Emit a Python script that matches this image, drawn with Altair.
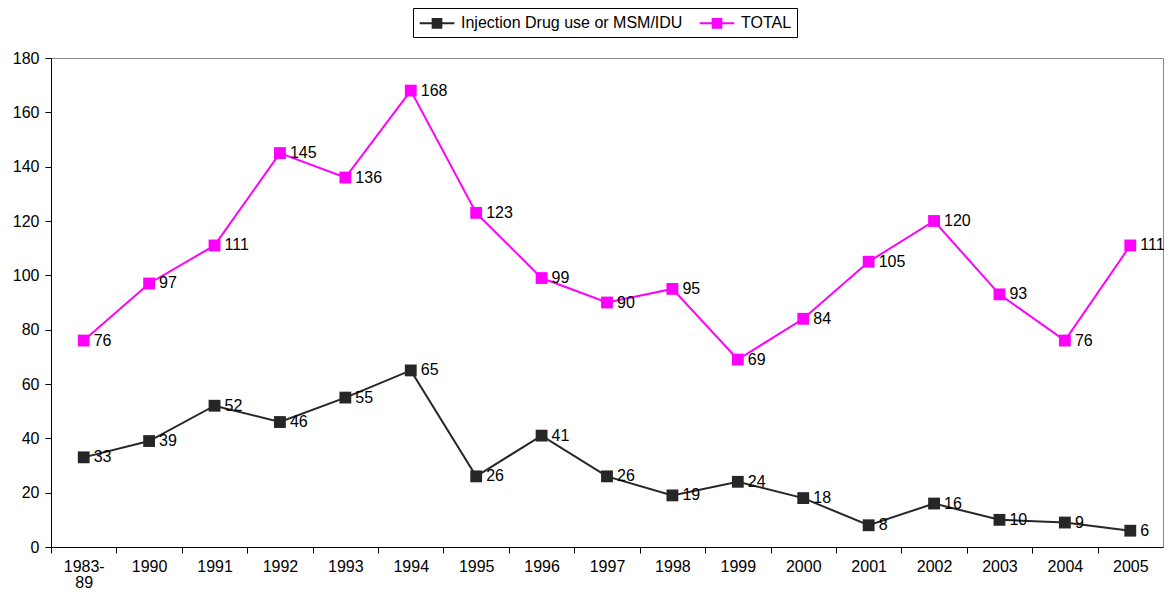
import altair as alt
import pandas as pd

years = ["1983-89", "1990", "1991", "1992", "1993", "1994", "1995", "1996", "1997",
         "1998", "1999", "2000", "2001", "2002", "2003", "2004", "2005"]
idu = [33, 39, 52, 46, 55, 65, 26, 41, 26, 19, 24, 18, 8, 16, 10, 9, 6]
total = [76, 97, 111, 145, 136, 168, 123, 99, 90, 95, 69, 84, 105, 120, 93, 76, 111]
series_names = ["Injection Drug use or MSM/IDU", "TOTAL"]
series_colors = ["#262626", "#FF00FF"]

rows = []
for name, vals in zip(series_names, [idu, total]):
    for y, v in zip(years, vals):
        rows.append({"year": y, "series": name, "value": v})
df = pd.DataFrame(rows)

W, H = 1112, 489
step = W / len(years)
FONT = "Liberation Sans"
FS = 16

x = alt.X("year:N", sort=years, title=None,
          scale=alt.Scale(type="point", padding=0.5),
          axis=alt.Axis(tickOffset=-step / 2, labelOffset=step / 2, labelAngle=0,
                        tickSize=6, labelPadding=5, labelFontSize=FS, labelFont=FONT,
                        labelColor="black", domainColor="black", tickColor="black",
                        labelLineHeight=16, labelBaseline="top",
                        labelExpr="datum.label == '1983-89' ? ['1983-', '89'] : datum.label"))
y = alt.Y("value:Q", title=None,
          scale=alt.Scale(domain=[0, 180], nice=False),
          axis=alt.Axis(values=list(range(0, 181, 20)), grid=False, tickSize=6,
                        labelPadding=6, labelFontSize=FS, labelFont=FONT,
                        labelColor="black", domainColor="black", tickColor="black"))
color = alt.Color("series:N", sort=series_names, title=None,
                  scale=alt.Scale(domain=series_names, range=series_colors),
                  legend=alt.Legend(orient="none", legendX=362, legendY=-50,
                                    direction="horizontal", strokeColor="black",
                                    padding=5, labelFontSize=FS, labelFont=FONT,
                                    labelColor="black", columnPadding=12, labelLimit=0,
                                    symbolType="M-2,0H2M-0.5,-0.5H0.5V0.5H-0.5Z",
                                    symbolSize=300, symbolStrokeWidth=2,
                                    symbolOffset=9, labelOffset=14))

base = alt.Chart(df).encode(x=x, y=y, color=color)
lines = base.mark_line(strokeWidth=2)
points = base.mark_point(shape="square", filled=True, size=140, opacity=1)
labels = base.mark_text(align="left", baseline="middle", dx=10, fontSize=FS,
                        font=FONT, color="black").encode(text="value:Q", color=alt.value("black"))

chart = alt.layer(lines, points, labels).properties(
    width=W, height=H,
    autosize=alt.AutoSizeParams(type="none"),
    padding={"left": 43, "top": 50, "right": 1, "bottom": 43},
).configure_view(stroke="#888888", strokeWidth=1)

chart.save("out.html", embed_options={"renderer": "svg", "actions": False})
